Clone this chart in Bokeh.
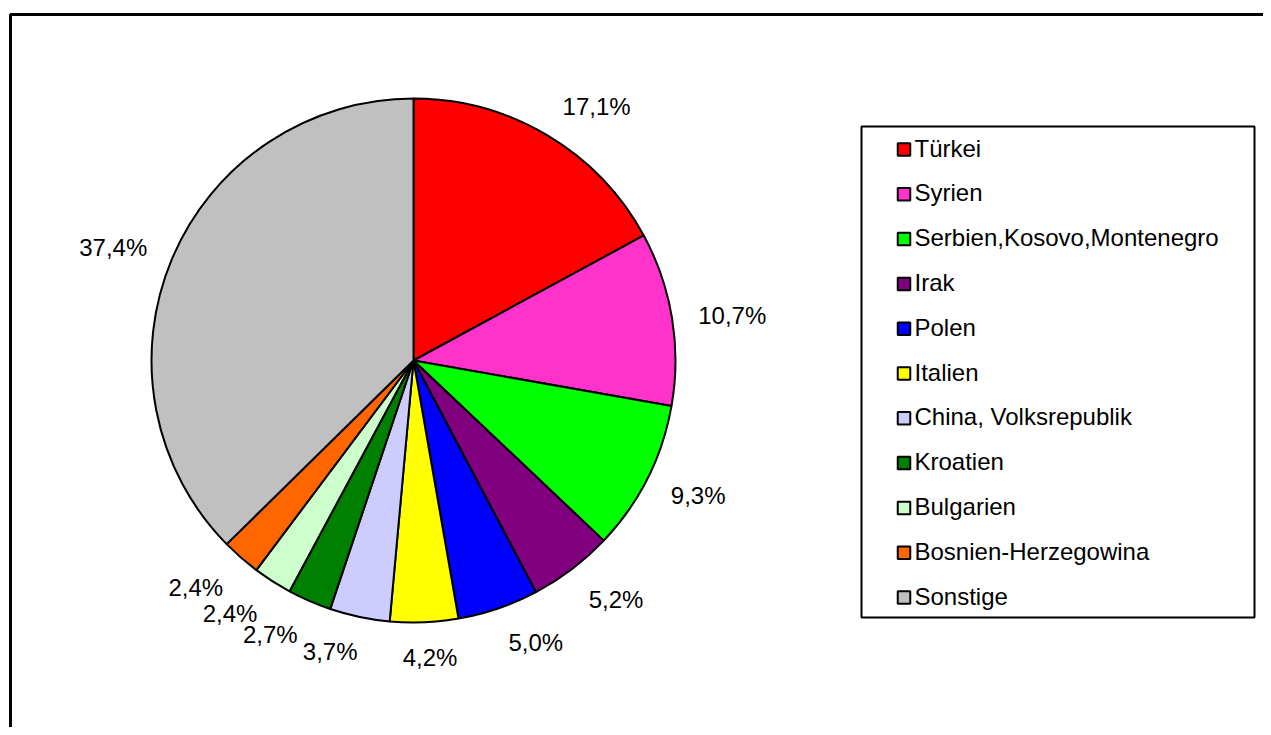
import numpy as np
from bokeh.plotting import figure
from bokeh.models import Range1d, ColumnDataSource
from bokeh.embed import file_html
from bokeh.resources import INLINE
from bokeh.core.properties import value

# ---------------- data ----------------
categories = ["Türkei", "Syrien", "Serbien,Kosovo,Montenegro", "Irak", "Polen",
              "Italien", "China, Volksrepublik", "Kroatien", "Bulgarien",
              "Bosnien-Herzegowina", "Sonstige"]
shares = [17.1, 10.7, 9.3, 5.2, 5.0, 4.2, 3.7, 2.7, 2.4, 2.4, 37.4]
colors = ["#FF0000", "#FF33CC", "#00FF00", "#800080", "#0000FF", "#FFFF00",
          "#CCCCFF", "#008000", "#CCFFCC", "#FF6600", "#C0C0C0"]

# ---------------- layout (screen pixel coordinates) ----------------
W, H = 1263, 727
FONT = "Liberation Sans"
FS = 24
CX, CY, R = 413, 360, 262

p = figure(width=W, height=H, x_range=Range1d(0, W), y_range=Range1d(-H, 0),
           output_backend="svg", toolbar_location=None, x_axis_type=None, y_axis_type=None,
           min_border=0, min_border_left=0, min_border_right=0, min_border_top=0, min_border_bottom=0)
p.outline_line_color = None
p.background_fill_color = "white"
p.border_fill_color = "white"

# outer chart frame (extends beyond the visible window at right/bottom)
p.quad(left=[10], right=[W + 200], top=[-14], bottom=[-(H + 200)],
       fill_color=None, line_color="black", line_width=3)

# pie
vals = np.array(shares, dtype=float)
frac = vals / vals.sum()
cum = np.concatenate([[0.0], np.cumsum(frac)])
start = np.pi / 2 - 2 * np.pi * cum[:-1]
end = np.pi / 2 - 2 * np.pi * cum[1:]
src = ColumnDataSource(dict(start=start, end=end, color=colors))
p.wedge(x=CX, y=-CY, radius=R, start_angle="start", end_angle="end", direction="clock",
        fill_color="color", line_color="black", line_width=2, source=src)

# data labels
adv = {"0": .556, "1": .556, "2": .556, "3": .556, "4": .556, "5": .556, "6": .556,
       "7": .556, "8": .556, "9": .556, ",": .278, "%": .889}
labels = [f"{v:.1f}".replace(".", ",") + "%" for v in shares]
mid = 2 * np.pi * (cum[:-1] + cum[1:]) / 2
lx, ly = [], []
RL = R + 23
for lab, a in zip(labels, mid):
    ux, uy = np.sin(a), -np.cos(a)  # screen direction (y down)
    w = sum(adv[c] for c in lab) * FS
    fx = np.clip(4 * ux, -1, 1)
    fy = np.sign(uy) * np.clip((abs(uy) - 0.15) / 0.6, 0, 1)
    cx = CX + RL * ux + fx * w / 2 * 1.1
    cy = CY + RL * uy + fy * 11 + 1.5
    lx.append(cx)
    ly.append(-cy)
p.text(x=lx, y=ly, text=labels, text_font=value(FONT), text_font_size=f"{FS}px",
       text_align="center", text_baseline="middle", text_color="black")

# legend
p.quad(left=[861], right=[1254], top=[-126], bottom=[-617],
       fill_color="white", line_color="black", line_width=2)
n = len(categories)
step = 44.8
my = [-(149 + i * step) for i in range(n)]
p.rect(x=[903.5] * n, y=my, width=12.5, height=12.5, fill_color=colors,
       line_color="black", line_width=2)
p.text(x=[914] * n, y=[-(147.5 + i * step) for i in range(n)], text=categories,
       text_font=value(FONT), text_font_size=f"{FS}px",
       text_align="left", text_baseline="middle", text_color="black")

open("out.html", "w").write(file_html(p, INLINE))
